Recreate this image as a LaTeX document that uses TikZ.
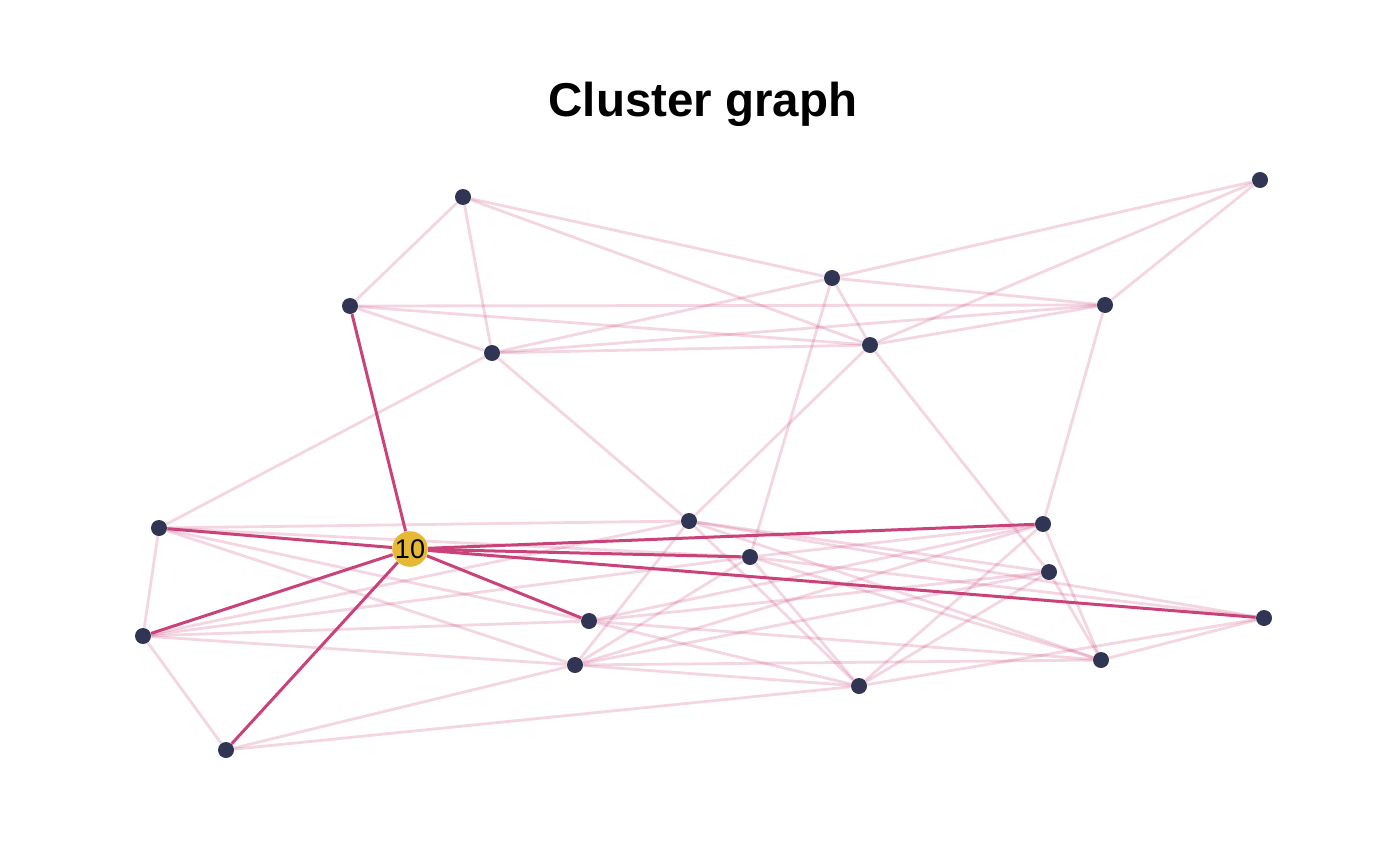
\documentclass[tikz,border=0pt]{standalone}
\usepackage{fontspec}
\setmainfont{Liberation Sans}
\usetikzlibrary{backgrounds}
\definecolor{Rose}{HTML}{C9437A}
\definecolor{Navy}{HTML}{2F3552}
\definecolor{Gold}{HTML}{E5B935}
\tikzset{
  dot/.style={circle, fill=Navy, inner sep=0pt, minimum size=8pt},
  hub/.style={circle, fill=Gold, inner sep=0pt, minimum size=15pt,
    font=\fontsize{13.5}{15}\selectfont},
  weak/.style={line width=1.4pt, draw=Rose, opacity=0.22},
  strong/.style={line width=1.5pt, draw=Rose},
}
\begin{document}
\begin{tikzpicture}[x=0.5pt, y=-0.5pt]
\useasboundingbox (0,0) rectangle (1400,866);

\node[font=\bfseries\fontsize{23.75}{28}\selectfont, anchor=base] (title) at (703,117) {Cluster graph};

% vertices
\node[dot] (a) at (463,197) {};
\node[dot] (b) at (832,278) {};
\node[dot] (c) at (1260,180) {};
\node[dot] (d) at (350,306) {};
\node[dot] (e) at (1105,305) {};
\node[dot] (f) at (492,353) {};
\node[dot] (g) at (870,345) {};
\node[dot] (h) at (159,528) {};
\node[hub] (i) at (410,549) {10};
\node[dot] (j) at (689,521) {};
\node[dot] (k) at (1043,524) {};
\node[dot] (l) at (750,557) {};
\node[dot] (m) at (1049,572) {};
\node[dot] (n) at (143,636) {};
\node[dot] (o) at (589,621) {};
\node[dot] (p) at (1264,618) {};
\node[dot] (q) at (575,665) {};
\node[dot] (r) at (1101,660) {};
\node[dot] (s) at (859,686) {};
\node[dot] (t) at (226,750) {};

\begin{scope}[on background layer]
% faint edges
\draw[weak] (a) -- (d); \draw[weak] (a) -- (f); \draw[weak] (a) -- (b); \draw[weak] (a) -- (g);
\draw[weak] (d) -- (e); \draw[weak] (d) -- (g); \draw[weak] (d) -- (f);
\draw[weak] (f) -- (h); \draw[weak] (f) -- (j); \draw[weak] (f) -- (b);
\draw[weak] (f) -- (e); \draw[weak] (f) -- (g);
\draw[weak] (b) -- (c); \draw[weak] (b) -- (e); \draw[weak] (b) -- (g); \draw[weak] (b) -- (l);
\draw[weak] (g) -- (c); \draw[weak] (g) -- (e); \draw[weak] (g) -- (j); \draw[weak] (g) -- (m);
\draw[weak] (e) -- (c); \draw[weak] (e) -- (k);
\draw[weak] (h) -- (n); \draw[weak] (h) -- (j); \draw[weak] (h) -- (l);
\draw[weak] (h) -- (o); \draw[weak] (h) -- (q);
\draw[weak] (n) -- (t); \draw[weak] (n) -- (j); \draw[weak] (n) -- (l);
\draw[weak] (n) -- (o); \draw[weak] (n) -- (q);
\draw[weak] (t) -- (q); \draw[weak] (t) -- (s);
\draw[weak] (j) -- (q); \draw[weak] (j) -- (s); \draw[weak] (j) -- (r);
\draw[weak] (j) -- (m); \draw[weak] (j) -- (p);
\draw[weak] (l) -- (q); \draw[weak] (l) -- (r); \draw[weak] (l) -- (s);
\draw[weak] (l) -- (p); \draw[weak] (l) -- (k);
\draw[weak] (o) -- (k); \draw[weak] (o) -- (m); \draw[weak] (o) -- (r); \draw[weak] (o) -- (s);
\draw[weak] (q) -- (k); \draw[weak] (q) -- (m); \draw[weak] (q) -- (r); \draw[weak] (q) -- (s);
\draw[weak] (k) -- (s); \draw[weak] (k) -- (r);
\draw[weak] (m) -- (s); \draw[weak] (m) -- (r);
\draw[weak] (r) -- (p); \draw[weak] (s) -- (p);
% edges of the selected vertex
\draw[strong] (i) -- (d); \draw[strong] (i) -- (h); \draw[strong] (i) -- (n);
\draw[strong] (i) -- (t); \draw[strong] (i) -- (o); \draw[strong] (i) -- (l);
\draw[strong] (i) -- (k); \draw[strong] (i) -- (p);
\end{scope}

\end{tikzpicture}
\end{document}
